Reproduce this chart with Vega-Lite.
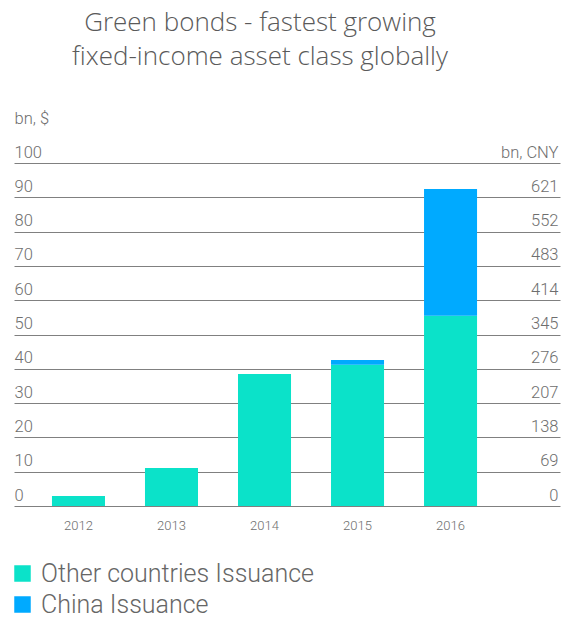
{
  "$schema": "https://vega.github.io/schema/vega-lite/v6.json",
  "width": 546,
  "height": 343,
  "autosize": {"type": "none"},
  "padding": {"left": 14, "top": 163, "right": 11, "bottom": 111},
  "title": {
    "text": ["Green bonds - fastest growing", "fixed-income asset class globally"],
    "fontSize": 26,
    "font": "Open Sans",
    "fontWeight": 300,
    "color": "#5a5a5a",
    "anchor": "middle",
    "dx": -27,
    "lineHeight": 34,
    "offset": 40
  },
  "data": {
    "values": [
      {"year": "2012", "series": "Other countries Issuance", "value": 2.9},
      {"year": "2013", "series": "Other countries Issuance", "value": 11.1},
      {"year": "2014", "series": "Other countries Issuance", "value": 38.5},
      {"year": "2015", "series": "Other countries Issuance", "value": 41.2},
      {"year": "2015", "series": "China Issuance", "value": 1.4},
      {"year": "2016", "series": "Other countries Issuance", "value": 55.5},
      {"year": "2016", "series": "China Issuance", "value": 36.9}
    ]
  },
  "encoding": {
    "x": {
      "field": "year",
      "type": "ordinal",
      "scale": {"paddingInner": 0.43, "paddingOuter": 0.65, "align": 0.314},
      "axis": {
        "title": null,
        "domain": false,
        "ticks": false,
        "labelAngle": 0,
        "labelPadding": 13,
        "labelBaseline": "top",
        "labelFontSize": 13,
        "labelFont": "Roboto",
        "labelFontWeight": 300,
        "labelColor": "#6e6e6e"
      }
    },
    "color": {
      "field": "series",
      "type": "nominal",
      "scale": {
        "domain": ["Other countries Issuance", "China Issuance"],
        "range": ["#0be2c9", "#00aaff"]
      },
      "legend": {
        "orient": "none",
        "legendX": -4,
        "legendY": 398,
        "title": null,
        "direction": "vertical",
        "symbolType": "square",
        "symbolSize": 272,
        "symbolStrokeWidth": 0,
        "symbolOpacity": 1,
        "labelFontSize": 25,
        "labelFont": "Roboto",
        "labelFontWeight": 300,
        "labelColor": "#666666",
        "labelOffset": 6,
        "rowPadding": 5,
        "padding": 0,
        "labelLimit": 400
      }
    },
    "order": {"field": "series", "sort": "descending"}
  },
  "layer": [
    {
      "mark": {"type": "bar"},
      "encoding": {
        "y": {
          "field": "value",
          "type": "quantitative",
          "stack": "zero",
          "scale": {"domain": [0, 100], "nice": false},
          "axis": {
            "orient": "left",
            "values": [0, 10, 20, 30, 40, 50, 60, 70, 80, 90, 100],
            "domain": false,
            "ticks": false,
            "tickSize": 0,
            "grid": true,
            "gridColor": "#808080",
            "gridWidth": 1,
            "labelAlign": "left",
            "labelBaseline": "alphabetic",
            "labelOffset": -6,
            "labelPadding": 0,
            "labelFontSize": 16.5,
            "labelFont": "Roboto",
            "labelFontWeight": 300,
            "labelColor": "#6e6e6e",
            "labelOverlap": false,
            "title": "bn, $",
            "titleAngle": 0,
            "titleAlign": "left",
            "titleBaseline": "alphabetic",
            "titleX": 0,
            "titleY": -40,
            "titleFontSize": 16.5,
            "titleFont": "Roboto",
            "titleFontWeight": 300,
            "titleColor": "#6e6e6e"
          }
        }
      }
    },
    {
      "mark": {"type": "bar", "opacity": 0},
      "encoding": {
        "y": {
          "field": "value",
          "type": "quantitative",
          "stack": "zero",
          "scale": {"domain": [0, 100], "nice": false},
          "axis": {
            "orient": "right",
            "values": [0, 10, 20, 30, 40, 50, 60, 70, 80, 90, 100],
            "labelExpr": "datum.value == 100 ? 'bn, CNY' : format(datum.value * 6.9, 'd')",
            "domain": false,
            "ticks": false,
            "tickSize": 0,
            "grid": false,
            "labelAlign": "right",
            "labelBaseline": "alphabetic",
            "labelOffset": -6,
            "labelPadding": -2,
            "labelFontSize": 16.5,
            "labelFont": "Roboto",
            "labelFontWeight": 300,
            "labelColor": "#6e6e6e",
            "labelOverlap": false,
            "title": null
          }
        }
      }
    }
  ],
  "resolve": {"axis": {"y": "independent"}},
  "config": {"view": {"stroke": null}}
}
